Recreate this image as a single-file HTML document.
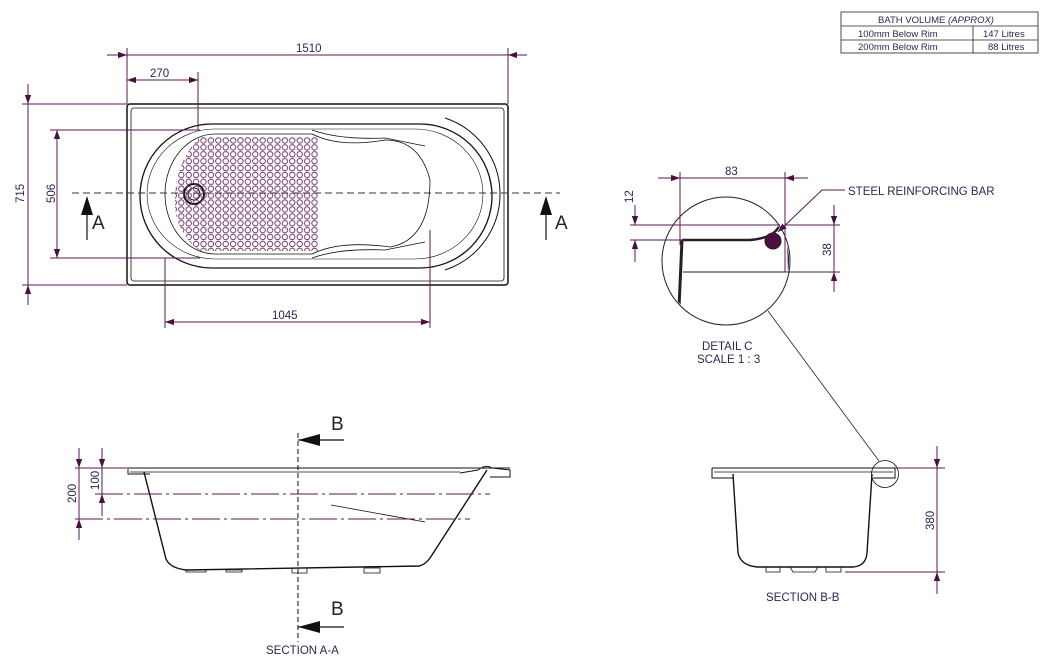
<!DOCTYPE html>
<html><head><meta charset="utf-8"><style>
html,body{margin:0;padding:0;background:#fff;}
svg{display:block;}
text{font-family:"Liberation Sans",sans-serif;fill:#2b2850;}
</style></head><body>
<svg width="1054" height="659" viewBox="0 0 1054 659" xmlns="http://www.w3.org/2000/svg">
<defs>
<marker id="ar" viewBox="0 0 10 10" refX="10" refY="5" markerWidth="9" markerHeight="9" orient="auto-start-reverse" markerUnits="userSpaceOnUse"><path d="M0,1.5 L10,5 L0,8.5z" fill="#4a1040"/></marker>
<pattern id="holes" x="185" y="137" width="7.4" height="6.9" patternUnits="userSpaceOnUse"><circle cx="3.7" cy="3.45" r="2.7" fill="none" stroke="#6a2a62" stroke-width="0.9"/></pattern>
<clipPath id="hc"><path d="M200,137 L318,137 L318,251 L200,251 Q172,230 175,194 Q178,158 200,137z"/></clipPath>
<clipPath id="dc"><circle cx="726" cy="261" r="63"/></clipPath>
</defs>

<!-- table -->
<g stroke="#222" stroke-width="0.8" fill="none">
<rect x="841" y="12" width="197" height="41"/>
<line x1="841" y1="26" x2="1038" y2="26"/><line x1="841" y1="40" x2="1038" y2="40"/>
<line x1="973" y1="26" x2="973" y2="53"/>
</g>
<g font-size="9.5">
<text x="878" y="23">BATH VOLUME <tspan font-style="italic">(APPROX)</tspan></text>
<text x="858" y="37">100mm Below Rim</text><text x="983" y="37">147 Litres</text>
<text x="858" y="50">200mm Below Rim</text><text x="988" y="50">88 Litres</text>
</g>

<!-- plan view -->
<g fill="none" stroke="#111">
<rect x="127" y="104" width="381" height="181" rx="3" stroke-width="1.5"/>
<rect x="131" y="108" width="373" height="173" rx="3" stroke-width="0.8"/>
<path d="M212,124 L420,124 A72,72 0 0 1 420,268 L212,268 A72,72 0 0 1 212,124z" stroke-width="1.3"/>
<path d="M215,129 L415,129 A68,65 0 0 1 415,259 L215,259 A68,65 0 0 1 215,129z" stroke-width="0.6"/>
<path d="M215,134 L312,134 Q340,148 385,140 Q420,140 430,180 Q430,240 390,247 Q340,240 312,254 L215,254 A50,60 0 0 1 215,134z" stroke-width="0.8"/>
<path d="M312,130 Q340,140 385,138 L425,146" stroke-width="0.8"/>
<path d="M312,258 Q340,248 385,250 L425,242" stroke-width="0.8"/>
<path d="M445,118 A80,80 0 0 1 445,270" stroke-width="1"/>
<circle cx="194" cy="194" r="10" stroke-width="2"/>
<circle cx="194" cy="194" r="6" stroke-width="1"/>
</g>
<rect x="175" y="137" width="145" height="116" fill="url(#holes)" clip-path="url(#hc)"/>
<line x1="72" y1="193" x2="560" y2="193" stroke="#333" stroke-width="1" stroke-dasharray="7,4"/>

<g stroke="#5a1a50" stroke-width="1" fill="none">
<line x1="127" y1="48" x2="127" y2="104"/><line x1="508" y1="48" x2="508" y2="104"/>
<line x1="107" y1="55" x2="527" y2="55"/>
<line x1="198" y1="72" x2="198" y2="130"/>
<line x1="127" y1="80" x2="198" y2="80" marker-start="url(#ar)" marker-end="url(#ar)"/>
<line x1="22" y1="104" x2="127" y2="104"/><line x1="22" y1="285" x2="127" y2="285"/>
<line x1="28" y1="84" x2="28" y2="104" marker-end="url(#ar)"/>
<line x1="28" y1="104" x2="28" y2="285"/>
<line x1="28" y1="305" x2="28" y2="285" marker-end="url(#ar)"/>
<line x1="50" y1="130" x2="200" y2="130"/><line x1="50" y1="258" x2="200" y2="258"/>
<line x1="57" y1="130" x2="57" y2="258" marker-start="url(#ar)" marker-end="url(#ar)"/>
<line x1="165" y1="258" x2="165" y2="328"/><line x1="430" y1="230" x2="430" y2="328"/>
<line x1="165" y1="322" x2="430" y2="322" marker-start="url(#ar)" marker-end="url(#ar)"/>
</g>
<line x1="108" y1="55" x2="127" y2="55" stroke="#5a1a50" marker-end="url(#ar)"/>
<line x1="527" y1="55" x2="508" y2="55" stroke="#5a1a50" marker-end="url(#ar)"/>
<g font-size="11.5">
<text x="296" y="52">1510</text><text x="150" y="77">270</text><text x="272" y="319">1045</text>
<text transform="translate(24,203) rotate(-90)">715</text>
<text transform="translate(55,203) rotate(-90)">506</text>
</g>
<g stroke="#111" stroke-width="1.2">
<line x1="87" y1="240" x2="87" y2="198"/><line x1="546" y1="240" x2="546" y2="198"/>
</g>
<path d="M81,215 L87,196 L93,215z M540,215 L546,196 L552,215z" fill="#111"/>
<text x="92" y="229" font-size="19" style="fill:#222">A</text>
<text x="555" y="229" font-size="19" style="fill:#222">A</text>

<!-- detail C -->
<g fill="none">
<circle cx="726" cy="261" r="64" stroke="#222" stroke-width="1"/>
<g clip-path="url(#dc)">
<path d="M682,240 L750,240 Q772,238 778,228 Q784,222 788,230 L790,300" stroke="#222" stroke-width="2.5"/>
<path d="M682,240 L678,330" stroke="#222" stroke-width="3"/>
<line x1="683" y1="272" x2="790" y2="272" stroke="#222" stroke-width="1"/>
</g>
<g stroke="#5a1a50" stroke-width="1">
<line x1="680" y1="172" x2="680" y2="245"/><line x1="785" y1="172" x2="785" y2="272"/>
<line x1="658" y1="178" x2="680" y2="178" marker-end="url(#ar)"/><line x1="680" y1="178" x2="785" y2="178"/><line x1="808" y1="178" x2="785" y2="178" marker-end="url(#ar)"/>
<line x1="630" y1="225" x2="780" y2="225"/><line x1="630" y1="240" x2="685" y2="240"/>
<line x1="635" y1="205" x2="635" y2="225" marker-end="url(#ar)"/><line x1="635" y1="262" x2="635" y2="240" marker-end="url(#ar)"/>
<line x1="785" y1="272" x2="840" y2="272"/><line x1="785" y1="225" x2="840" y2="225"/>
<line x1="834" y1="205" x2="834" y2="225" marker-end="url(#ar)"/><line x1="834" y1="225" x2="834" y2="272"/><line x1="834" y1="292" x2="834" y2="272" marker-end="url(#ar)"/>
<path d="M845,190 L822,190 L778,232" marker-end="url(#ar)"/>
</g>
</g>
<circle cx="773" cy="241" r="8" fill="#4a1040" stroke="#222"/>
<line x1="768" y1="311" x2="879" y2="461" stroke="#222" stroke-width="0.8"/>
<g font-size="11.5">
<text x="725" y="175">83</text>
<text transform="translate(633,203) rotate(-90)">12</text>
<text transform="translate(831,256) rotate(-90)">38</text>
<text x="848" y="195">STEEL REINFORCING BAR</text>
<text x="702" y="350">DETAIL C</text>
<text x="697" y="363">SCALE 1 : 3</text>
</g>

<!-- section A-A -->
<g fill="none" stroke="#111">
<line x1="128" y1="468" x2="510" y2="468" stroke-width="1"/>
<path d="M128,469 L128,474 L150,474 M460,473 L478,470 Q486,464 492,468 L510,470 L510,477 L490,477" stroke-width="1"/>
<line x1="130" y1="472" x2="460" y2="472" stroke-width="0.8"/>
<path d="M144,472 L166,559 Q170,568 186,570 L419,566 Q425,565 430,558 L487,470" stroke-width="1.4"/>
<path d="M186,570 L206,570 L206,572 L186,572z M226,570 L242,570 L242,572 L226,572z M292,568 L307,568 L307,573 L292,573z M364,568 L380,568 L380,573 L364,573z" stroke-width="0.8"/>
<line x1="331" y1="505" x2="425" y2="522" stroke-width="0.8"/>
</g>
<g stroke="#5a1a50" stroke-width="1" fill="none">
<line x1="75" y1="468" x2="128" y2="468"/>
<line x1="95" y1="494" x2="490" y2="494" stroke-dasharray="28,4,3,4"/>
<line x1="75" y1="519" x2="470" y2="519" stroke-dasharray="28,4,3,4"/>
<line x1="79" y1="448" x2="79" y2="468" marker-end="url(#ar)"/><line x1="79" y1="468" x2="79" y2="519"/><line x1="79" y1="540" x2="79" y2="519" marker-end="url(#ar)"/>
<line x1="102" y1="448" x2="102" y2="468" marker-end="url(#ar)"/><line x1="102" y1="468" x2="102" y2="494"/><line x1="102" y1="516" x2="102" y2="494" marker-end="url(#ar)"/>
</g>
<text transform="translate(76,503) rotate(-90)" font-size="11.5">200</text>
<text transform="translate(99,490) rotate(-90)" font-size="11.5">100</text>
<line x1="298" y1="433" x2="298" y2="642" stroke="#111" stroke-width="1" stroke-dasharray="5,3"/>
<g stroke="#111" stroke-width="1.2"><line x1="298" y1="440" x2="344" y2="440"/><line x1="298" y1="627" x2="344" y2="627"/></g>
<path d="M298,440 L320,434 L320,446z M298,627 L320,621 L320,633z" fill="#111"/>
<text x="331" y="430" font-size="19" style="fill:#222">B</text>
<text x="331" y="615" font-size="19" style="fill:#222">B</text>
<text x="266" y="654" font-size="11.5">SECTION A-A</text>

<!-- section B-B -->
<g fill="none" stroke="#111">
<line x1="712" y1="468" x2="895" y2="468" stroke-width="1"/>
<path d="M712,468 L712,478 L733,478 M895,468 L895,478 L873,478" stroke-width="1"/>
<line x1="714" y1="472" x2="893" y2="472" stroke-width="0.8"/>
<path d="M733,474 L738,553 Q741,566 758,567 L853,567 Q866,566 867,553 L872,474" stroke-width="1.4"/>
<path d="M766,567 L766,572 L780,572 L780,567 M790,567 L793,572 L815,572 L818,567 M826,567 L826,572 L841,572 L841,567" stroke-width="0.8"/>
<circle cx="885" cy="474" r="13.5" stroke-width="0.8"/>
</g>
<g stroke="#5a1a50" stroke-width="1" fill="none">
<line x1="895" y1="468" x2="945" y2="468"/><line x1="845" y1="572" x2="945" y2="572"/>
<line x1="937" y1="446" x2="937" y2="468" marker-end="url(#ar)"/><line x1="937" y1="468" x2="937" y2="572"/><line x1="937" y1="594" x2="937" y2="572" marker-end="url(#ar)"/>
</g>
<text transform="translate(934,530) rotate(-90)" font-size="11.5">380</text>
<text x="766" y="601" font-size="11.5">SECTION B-B</text>
</svg>
</body></html>
